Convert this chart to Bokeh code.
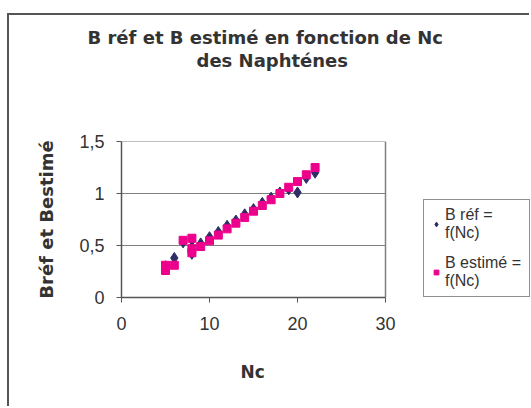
from bokeh.plotting import figure
from bokeh.models import Range1d, Legend, LegendItem, FixedTicker, Title
from bokeh.embed import file_html
from bokeh.resources import INLINE

# Data
nc = [5, 5, 6, 7, 8, 8, 8, 9, 10, 11, 12, 13, 14, 15, 16, 17, 18, 19, 20, 21, 22]
b_ref = [0.27, 0.30, 0.38, 0.53, 0.55, 0.46, 0.42, 0.52, 0.58, 0.63, 0.69, 0.74,
         0.80, 0.85, 0.91, 0.96, 1.01, 1.04, 1.01, 1.15, 1.20]
b_est = [0.26, 0.31, 0.31, 0.55, 0.57, 0.47, 0.43, 0.49, 0.545, 0.60, 0.66, 0.715,
         0.77, 0.83, 0.885, 0.94, 1.00, 1.06, 1.115, 1.18, 1.25]
x_ticks = [0, 10, 20, 30]
y_ticks = [0, 0.5, 1, 1.5]
y_tick_labels = ["0", "0,5", "1", "1,5"]
title_lines = ["B réf et B estimé en fonction de Nc", "des Naphténes"]
x_label = "Nc"
y_label = "Bréf et Bestimé"
legend_labels = ["B réf =\nf(Nc)", "B estimé =\nf(Nc)"]

X_MIN, X_MAX = 0, 30
Y_MIN, Y_MAX = 0, 1.5

FONT = "Liberation Sans"
BFONT = "DejaVu Sans"
TXT = "#333333"
GRID = "#808080"

# frame spans to the right edge so the legend (inside the frame) is not clipped;
# the axis and grid lines are bounded to the 0..30 data range
PLOT_W = 264          # pixel width of the 0..30 data area
FRAME_W = 410         # pixel width of the whole frame
x_end = X_MAX * FRAME_W / PLOT_W

p = figure(width=522, height=393, output_backend="svg", toolbar_location=None,
           x_range=Range1d(X_MIN, x_end), y_range=Range1d(Y_MIN, Y_MAX),
           min_border_left=112, min_border_right=0, min_border_top=126,
           min_border_bottom=111)
p.margin = (13, 0, 0, 7)
p.styles = {"border-top": "2px solid #555555", "border-left": "2px solid #555555"}

def style_title(t, standoff, offset, size="18px"):
    t.align = "left"
    t.offset = offset
    t.text_font = BFONT
    t.text_font_size = size
    t.text_font_style = "bold"
    t.text_color = TXT
    t.standoff = standoff

# two-line chart title (stacked titles), with a blank spacer next to the frame
p.title.text = title_lines[0]
style_title(p.title, 0, -34)
spacer = Title(text=" ")
style_title(spacer, 48, 0)
p.add_layout(spacer, "above")
t2 = Title(text=title_lines[1])
style_title(t2, 0, 75)
p.add_layout(t2, "above")

p.xaxis.ticker = FixedTicker(ticks=x_ticks)
p.yaxis.ticker = FixedTicker(ticks=y_ticks)
p.yaxis.major_label_overrides = {t: l for t, l in zip(y_ticks, y_tick_labels)}
p.xaxis.bounds = (X_MIN, X_MAX)
for ax in (p.xaxis, p.yaxis):
    ax.major_label_text_font = FONT
    ax.major_label_text_font_size = "18px"
    ax.major_label_text_color = TXT
    ax.axis_label_text_font = BFONT
    ax.axis_label_text_font_size = "18px"
    ax.axis_label_text_font_style = "bold"
    ax.axis_label_text_color = TXT
    ax.axis_line_color = "#555555"
    ax.axis_line_width = 1.5
    ax.major_tick_line_color = "#555555"
    ax.major_tick_out = 5
    ax.major_tick_in = 0
    ax.minor_tick_line_color = None
p.yaxis.axis_label = y_label
p.xaxis.major_label_standoff = 14
p.yaxis.major_label_standoff = 12
p.yaxis.axis_label_standoff = 19

# x axis title, centred under the 0..30 data area
tx = Title(text=x_label)
style_title(tx, 54, 119, "17px")
p.add_layout(tx, "below")

# horizontal grid lines and right border of the plot area, limited to 0..30
p.xgrid.grid_line_color = None
p.ygrid.grid_line_color = None
p.outline_line_color = None
grid_y = y_ticks[1:]
p.segment(x0=[X_MIN] * len(grid_y), x1=[X_MAX] * len(grid_y), y0=grid_y, y1=grid_y,
          line_color=GRID, line_width=1, level="underlay")
p.segment(x0=[X_MAX], x1=[X_MAX], y0=[Y_MIN], y1=[Y_MAX],
          line_color=GRID, line_width=1.5, level="underlay")

r_ref = p.scatter(nc, b_ref, marker="diamond", size=11, color="#2E2E66")
r_est = p.scatter(nc, b_est, marker="square", size=8, color="#EC008C")

legend = Legend(items=[LegendItem(label=legend_labels[0], renderers=[r_ref]),
                       LegendItem(label=legend_labels[1], renderers=[r_est])],
                location=(302, 0))
legend.label_text_font = FONT
legend.label_text_font_size = "16px"
legend.label_text_color = TXT
legend.border_line_color = "#222222"
legend.border_line_width = 1
legend.glyph_width = 12
legend.glyph_height = 20
legend.label_standoff = 3
legend.label_width = 78
legend.padding = 6
legend.spacing = 12
legend.margin = 0
p.add_layout(legend, "center")

open("out.html", "w").write(file_html(p, INLINE))
